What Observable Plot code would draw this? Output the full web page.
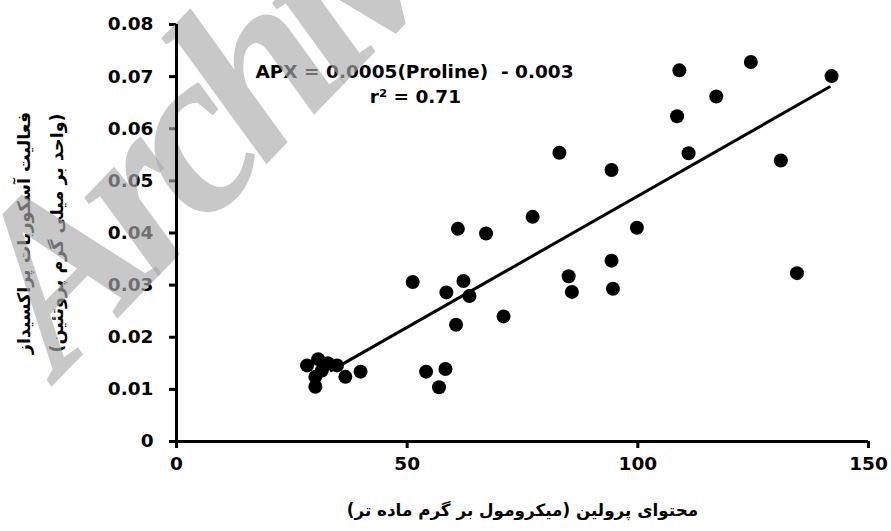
<!DOCTYPE html>
<html>
<head>
<meta charset="utf-8">
<script src="https://cdn.jsdelivr.net/npm/d3@7"></script>
<script src="https://cdn.jsdelivr.net/npm/@observablehq/plot@0.6"></script>
<style>
  html, body { margin: 0; padding: 0; background: #fff; }
  #chart { width: 891px; height: 531px; }
</style>
</head>
<body>
<div id="chart"></div>
<script>
// Proline content (µmol/g FW) and APX activity (units/mg protein)
const proline = [109.0, 124.5, 142.0, 117.0, 108.5, 111.0, 131.0, 83.0, 94.3, 77.2,
                 99.8, 61.0, 67.1, 94.3, 134.5, 85.0, 85.7, 94.6, 51.2, 62.2,
                 58.5, 63.5, 70.9, 60.6, 54.1, 58.3, 56.9, 39.9,
                 28.3, 30.7, 32.8, 30.1, 30.1, 34.8, 36.6, 31.5];
const apx     = [0.0712, 0.0728, 0.0701, 0.0662, 0.0624, 0.0553, 0.0539, 0.0554, 0.0521, 0.0431,
                 0.0410, 0.0408, 0.0399, 0.0347, 0.0323, 0.0317, 0.0287, 0.0293, 0.0306, 0.0308,
                 0.0286, 0.0279, 0.0240, 0.0224, 0.0134, 0.0139, 0.0104, 0.0134,
                 0.0146, 0.0158, 0.0150, 0.0124, 0.0105, 0.0146, 0.0124, 0.0136];

// Trend line end points
const fitX = [33.5, 141.5];
const fitY = [0.0136, 0.0680];

const xTicks = [0, 50, 100, 150];
const yTicks = [0, 0.01, 0.02, 0.03, 0.04, 0.05, 0.06, 0.07, 0.08];

const equation = "APX = 0.0005(Proline)  - 0.003";
const rSquared = "r² = 0.71";
const xTitle = "محتوای پرولین (میکرومول بر گرم ماده تر)";
const yTitle = ["فعالیت آسکوربات پراکسیداز", "(واحد بر میلی گرم پروتئین)"];

const points = proline.map((p, i) => ({proline: p, apx: apx[i]}));
const fit = fitX.map((x, i) => ({x, y: fitY[i]}));

const chart = Plot.plot({
  width: 891,
  height: 531,
  marginLeft: 176,
  marginRight: 23,
  marginTop: 24,
  marginBottom: 90,
  style: {fontFamily: "'DejaVu Sans', sans-serif", fontWeight: "bold", fontSize: "18.5px", color: "#000", background: "#fff"},
  x: {domain: [0, 150]},
  y: {domain: [0, 0.08]},
  marks: [
    Plot.axisX({ticks: xTicks, tickSize: 7, tickPadding: 8, strokeWidth: 3, tickFormat: d => String(d), label: null}),
    Plot.axisY({ticks: yTicks, tickSize: 7, tickPadding: 16, strokeWidth: 3, tickFormat: d => d === 0 ? "0" : d.toFixed(2), label: null}),
    Plot.line(fit, {x: "x", y: "y", stroke: "#000", strokeWidth: 3}),
    Plot.dot(points, {x: "proline", y: "apx", r: 7, fill: "#000", stroke: null}),
    Plot.text([equation], {x: 51.6, y: 0.0708, text: d => d, fontSize: 18.5, fontWeight: "bold", fill: "#000"}),
    Plot.text([rSquared], {x: 51.8, y: 0.0660, text: d => d, fontSize: 18.5, fontWeight: "bold", fill: "#000"}),
    Plot.text([xTitle], {frameAnchor: "bottom", dy: 74, textAnchor: "middle", text: d => d, fontSize: 16.8, fontWeight: "bold", fontFamily: "'DejaVu Sans', sans-serif", fill: "#000"}),
    Plot.text([yTitle.join("\n")], {frameAnchor: "left", dx: -140.5, textAnchor: "middle", rotate: -90, text: d => d, lineHeight: 1.85, fontSize: 17.5, fontWeight: "bold", fontFamily: "'DejaVu Sans', sans-serif", fill: "#000"}),
    Plot.ruleY([0], {stroke: "#000", strokeWidth: 3}),
    Plot.ruleX([0], {stroke: "#000", strokeWidth: 3})
  ]
});

document.getElementById("chart").appendChild(chart);

// Watermark overlay as in the source image
const svg = d3.select(chart);
svg.append("text")
  .attr("transform", "translate(60,378) rotate(-46)")
  .attr("text-anchor", "start")
  .attr("font-family", "'Liberation Serif', serif")
  .attr("font-style", "italic")
  .attr("font-weight", "bold")
  .attr("font-size", 235)
  .attr("letter-spacing", -20)
  .attr("fill", "#ababab")
  .attr("fill-opacity", 0.65)
  .text("Archive of SID");
svg.selectAll("g[aria-label='rule']").raise();
</script>
</body>
</html>
